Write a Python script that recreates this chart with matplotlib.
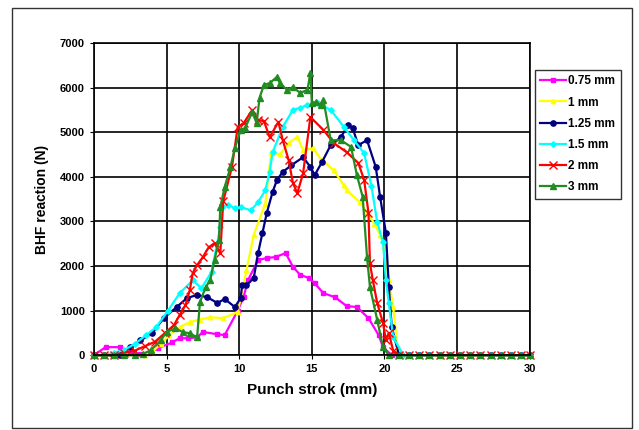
import matplotlib
matplotlib.use('Agg')
import matplotlib.pyplot as plt
from matplotlib.patches import Rectangle

plt.rcParams['font.family'] = ['Liberation Sans', 'DejaVu Sans']
plt.rcParams['font.weight'] = 'bold'

# zero tail shared by every series (after the punch is through)
tail_x = [21.7, 22.4, 23.1, 23.8, 24.5, 25.2, 25.9, 26.6, 27.3, 28.0, 28.7, 29.4, 30.0]
tail_y = [0, 0, 0, 0, 0, 0, 0, 0, 0, 0, 0, 0, 0]

x_075 = [0, 0.8, 1.8, 2.5, 3.2, 3.8, 4.4, 5.4, 5.9, 6.5, 7.1, 7.5, 8.5, 9.0, 9.9,
         10.3, 10.6, 11.3, 11.9, 12.5, 13.2, 13.7, 14.2, 14.8, 15.2, 15.8, 16.6,
         17.4, 18.1, 18.9, 19.6, 19.9, 20.5, 21.1]
y_075 = [0, 180, 180, 50, 30, 60, 150, 290, 380, 380, 400, 520, 470, 450, 1000,
         1300, 1680, 2130, 2180, 2200, 2290, 1980, 1800, 1730, 1610, 1390, 1300,
         1100, 1080, 830, 450, 180, 0, 0]

x_1 = [0, 0.7, 1.4, 2.1, 2.8, 3.5, 4.0, 4.6, 5.2, 5.9, 6.6, 7.3, 8.0, 8.9, 9.9,
       10.5, 11.0, 11.8, 12.2, 12.8, 13.4, 14.0, 14.4, 15.1, 15.6, 16.5, 17.2,
       17.4, 18.3, 18.8, 19.3, 19.7, 20.0, 20.3, 20.6, 20.9, 21.3]
y_1 = [0, 0, 0, 0, 0, 0, 70, 250, 450, 630, 740, 800, 850, 830, 970,
       1900, 2700, 3400, 4550, 4500, 4750, 4900, 4600, 4640, 4400, 4150, 3810,
       3700, 3430, 3200, 2950, 2700, 2420, 1680, 1080, 180, 0]

x_125 = [0, 0.7, 1.3, 1.8, 2.5, 3.2, 4.0, 4.8, 5.7, 6.4, 7.1, 7.8, 8.5, 9.0, 9.7,
         10.1, 10.2, 10.5, 11.0, 11.3, 11.6, 11.9, 12.3, 12.6, 13.0, 13.6, 14.4,
         14.9, 15.2, 15.7, 16.3, 17.0, 17.5, 17.8, 18.2, 18.8, 19.4, 19.7, 20.1,
         20.3, 20.5, 21.0]
y_125 = [0, 0, 0, 0, 180, 330, 490, 830, 1080, 1280, 1350, 1300, 1170, 1260, 1080,
         1280, 1570, 1570, 1730, 2290, 2740, 3190, 3660, 3930, 4110, 4260, 4440,
         4220, 4040, 4330, 4710, 4890, 5160, 5100, 4710, 4820, 4220, 3550, 2740,
         1530, 630, 0]

x_15 = [0, 0.7, 1.4, 2.1, 2.8, 3.6, 4.3, 5.1, 5.9, 6.8, 7.4, 8.1, 8.7, 8.8, 9.2,
        9.7, 10.1, 10.8, 11.3, 11.8, 12.1, 12.3, 13.0, 13.7, 14.2, 14.7, 15.4,
        16.3, 17.2, 17.9, 18.6, 19.1, 19.5, 19.9, 20.1, 20.3, 20.6, 21.3]
y_15 = [0, 0, 60, 120, 250, 450, 630, 1000, 1390, 1680, 1500, 1870, 2870, 3320, 3370,
        3300, 3320, 3250, 3430, 3700, 4110, 4550, 5120, 5500, 5550, 5610, 5650,
        5500, 5120, 4820, 4530, 3800, 2980, 2540, 1680, 1170, 400, 0]

x_2 = [0, 0.7, 1.4, 2.1, 2.8, 3.5, 4.2, 4.9, 5.5, 5.9, 6.3, 6.6, 6.8, 7.1, 7.5,
       7.9, 8.3, 8.7, 8.9, 9.5, 9.9, 10.3, 10.9, 11.3, 11.7, 12.1, 12.7, 13.0,
       13.4, 13.7, 14.0, 14.4, 14.9, 15.8, 16.5, 17.4, 18.2, 18.6, 18.9, 19.0,
       19.2, 19.5, 19.9, 20.1, 20.3, 20.6, 21.0]
y_2 = [0, 0, 0, 50, 100, 200, 300, 500, 670, 900, 1120, 1460, 1840, 2020, 2200,
       2420, 2510, 2290, 3450, 4220, 5120, 5200, 5500, 5270, 5250, 4890, 5230, 4820,
       4380, 3860, 3630, 4080, 5340, 5050, 4760, 4550, 4310, 3930, 3190, 2060,
       1680, 1170, 720, 340, 500, 100, 0]

x_3 = [0, 0.7, 1.4, 2.1, 2.8, 3.4, 3.9, 4.6, 5.0, 5.6, 6.1, 6.6, 7.1, 7.3, 7.7,
       8.0, 8.3, 8.6, 8.7, 9.0, 9.4, 9.7, 10.1, 10.4, 10.9, 11.2, 11.4, 11.7,
       12.1, 12.6, 12.8, 13.3, 13.7, 14.2, 14.7, 14.9, 15.0, 15.3, 15.6, 15.8,
       16.3, 17.0, 17.7, 18.1, 18.5, 18.8, 19.0, 19.5, 19.9, 20.3, 21.0]
y_3 = [0, 0, 0, 0, 0, 30, 110, 330, 520, 600, 520, 490, 400, 1190, 1530,
       1680, 2130, 2580, 3320, 3770, 4220, 4640, 5050, 5090, 5450, 5200, 5770, 6060,
       6100, 6240, 6100, 5950, 6010, 5880, 5950, 6330, 5650, 5680, 5610, 5720,
       4820, 4820, 4670, 4040, 3550, 2200, 1530, 790, 180, 0, 0]

series = [
    (x_075, y_075, '0.75 mm', '#FF00FF', 's', 3.2, 1.0),
    (x_1, y_1, '1 mm', '#FFFF00', '^', 3.2, 1.0),
    (x_125, y_125, '1.25 mm', '#000080', 'o', 3.8, 1.0),
    (x_15, y_15, '1.5 mm', '#00FFFF', 'D', 2.8, 1.0),
    (x_2, y_2, '2 mm', '#FF0000', 'x', 6, 1.0),
    (x_3, y_3, '3 mm', '#228B22', '^', 3.8, 1.0),
]

fig = plt.figure(figsize=(6.39, 4.30), dpi=100)
ax = fig.add_axes([0.147, 0.174, 0.682, 0.726])

for xs, ys, label, color, marker, ms, mew in series:
    ax.plot(xs + tail_x, ys + tail_y, color=color, marker=marker, markersize=ms,
            linewidth=1.6, markeredgewidth=mew, label=label, clip_on=False)

ax.set_xlim(0, 30)
ax.set_ylim(0, 7000)
ax.set_xticks([0, 5, 10, 15, 20, 25, 30])
ax.set_yticks([0, 1000, 2000, 3000, 4000, 5000, 6000, 7000])
ax.grid(True, color='black', linewidth=1.2)
ax.set_axisbelow(True)
for s in ax.spines.values():
    s.set_color('black')
    s.set_linewidth(1.2)
ax.tick_params(labelsize=8, length=3, color='black')
for lab in ax.get_xticklabels() + ax.get_yticklabels():
    lab.set_fontweight('bold')

ax.set_xlabel('Punch strok (mm)', fontsize=11, fontweight='bold', labelpad=6)
ax.set_ylabel('BHF reaction (N)', fontsize=10, fontweight='bold', labelpad=8)

leg = ax.legend(loc='upper left', bbox_to_anchor=(0.837, 0.837),
                bbox_transform=fig.transFigure, fontsize=8.5, frameon=True,
                fancybox=False, handlelength=2.2, handletextpad=0.2,
                borderaxespad=0, labelspacing=0.78, borderpad=0.45)
leg.get_frame().set_edgecolor('black')
leg.get_frame().set_linewidth(1.0)
for t in leg.get_texts():
    t.set_fontweight('bold')

# outer frame around the whole chart
fig.patches.append(Rectangle((0.019, 0.005), 0.97, 0.977, transform=fig.transFigure,
                             fill=False, edgecolor='#333333', linewidth=1.0))

fig.savefig('out.png', dpi=100)
